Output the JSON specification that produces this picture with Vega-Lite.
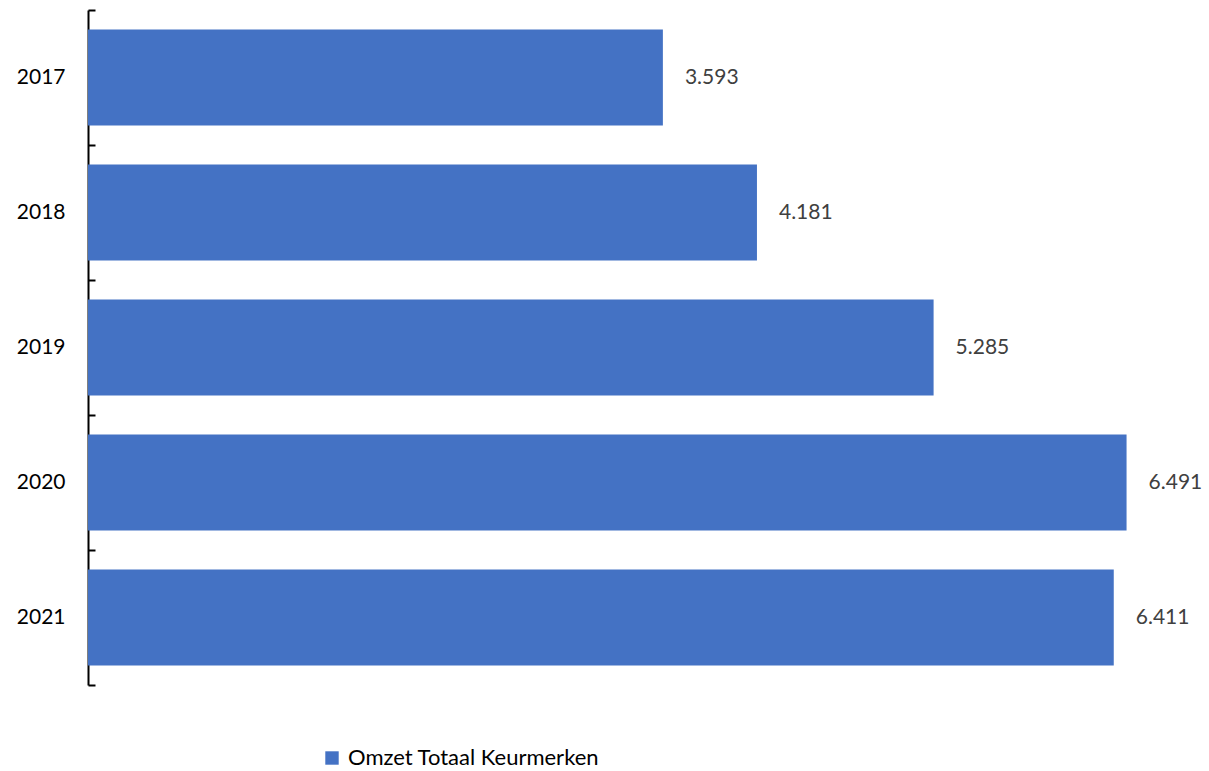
{
  "$schema": "https://vega.github.io/schema/vega-lite/v6.json",
  "width": 1120,
  "height": 675,
  "autosize": {"type": "none"},
  "padding": {"left": 88, "top": 10, "right": 1, "bottom": 86},
  "background": "white",
  "config": {"view": {"stroke": null}, "font": "Lato"},
  "data": {"values": [
    {"jaar": "2017", "omzet": 3.593, "serie": "Omzet Totaal Keurmerken"},
    {"jaar": "2018", "omzet": 4.181, "serie": "Omzet Totaal Keurmerken"},
    {"jaar": "2019", "omzet": 5.285, "serie": "Omzet Totaal Keurmerken"},
    {"jaar": "2020", "omzet": 6.491, "serie": "Omzet Totaal Keurmerken"},
    {"jaar": "2021", "omzet": 6.411, "serie": "Omzet Totaal Keurmerken"}
  ]},
  "encoding": {
    "y": {"field": "jaar", "type": "nominal", "sort": null,
      "scale": {"paddingInner": 0, "paddingOuter": 0},
      "axis": {"title": null, "domainColor": "#000000", "domainWidth": 2, "tickColor": "#000000", "tickWidth": 2, "tickSize": -7, "tickBand": "extent", "labelFontSize": 21, "labelColor": "#000000", "labelPadding": 30, "labelFont": "Lato"}},
    "x": {"field": "omzet", "type": "quantitative", "scale": {"domain": [0, 7], "nice": false}, "axis": null}
  },
  "layer": [
    {"mark": {"type": "bar", "color": "#4472C4", "height": {"band": 0.71}},
     "encoding": {"color": {"field": "serie", "type": "nominal", "scale": {"range": ["#4472C4"]},
       "legend": {"title": null, "orient": "none", "legendX": 233, "legendY": 737, "symbolType": "square", "symbolSize": 180, "symbolStrokeWidth": 0, "labelFontSize": 22, "labelColor": "#000000", "labelFont": "Lato", "labelLimit": 500, "labelOffset": 5, "symbolOpacity": 1}}}},
    {"mark": {"type": "text", "align": "left", "dx": 22, "fontSize": 21, "color": "#404040", "font": "Lato"},
     "encoding": {"text": {"field": "omzet", "type": "quantitative", "format": ".3f"}}}
  ]
}
